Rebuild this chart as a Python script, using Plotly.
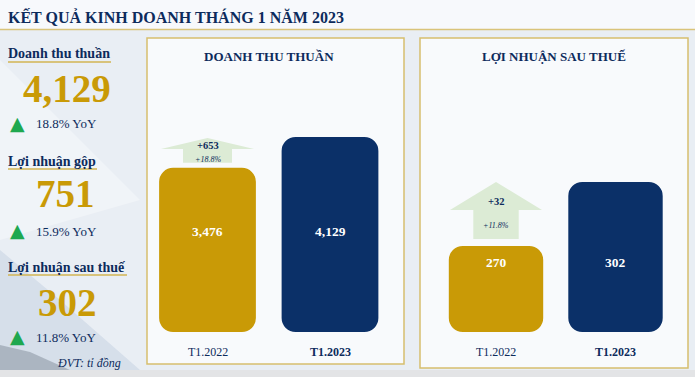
import plotly.graph_objects as go

# ---------------- data ----------------
title = "KẾT QUẢ KINH DOANH THÁNG 1 NĂM 2023"
categories = ["T1.2022", "T1.2023"]
revenue = [3476, 4129]
profit = [270, 302]
revenue_change = "+653"
revenue_pct = "+18.8%"
profit_change = "+32"
profit_pct = "+11.8%"
panel_titles = ["DOANH THU THUẦN", "LỢI NHUẬN SAU THUẾ"]
kpi_names = ["Doanh thu thuần", "Lợi nhuận gộp", "Lợi nhuận sau thuế"]
kpi_values = ["4,129", "751", "302"]
kpi_yoy = ["18.8% YoY", "15.9% YoY", "11.8% YoY"]
unit_note = "ĐVT: tỉ đồng"

# ---------------- style ----------------
W, H = 695, 377
GOLD = "#c99a06"
NAVY = "#0b3068"
TXT = "#0d2b5c"
GREEN = "#1fa84f"
ARROW = "#dcebd5"
BORDER = "#d6bf6e"
SERIF = "Liberation Serif"

REV_RANGE = [0, 4912]
PRO_RANGE = [227, 343]


def px(x):
    return x / W


def py(y):
    return 1 - y / H


fig = go.Figure()


def add_rounded_bars(values, base, xa, ya, radius):
    colors = [GOLD, NAVY]
    fig.add_trace(go.Bar(
        x=categories, y=[v - base for v in values], base=[base] * len(values),
        marker=dict(color=colors, cornerradius=radius, line=dict(width=0)),
        width=0.79, xaxis=xa, yaxis=ya, hoverinfo="skip", showlegend=False))


add_rounded_bars(revenue, REV_RANGE[0], "x", "y", 14)
add_rounded_bars(profit, PRO_RANGE[0], "x2", "y2", 14)

axis_common = dict(showgrid=False, zeroline=False, showticklabels=False,
                   showline=False, fixedrange=True)

fig.update_layout(
    width=W, height=H,
    margin=dict(l=0, r=0, t=0, b=0),
    paper_bgcolor="#e9eef4",
    plot_bgcolor="rgba(0,0,0,0)",
    barmode="overlay",
    showlegend=False,
    xaxis=dict(domain=[px(146.25), px(391.25)], range=[-0.5, 1.5], type="category", **axis_common),
    yaxis=dict(domain=[py(332), py(100)], range=REV_RANGE, **axis_common),
    xaxis2=dict(domain=[px(436.25), px(675.25)], range=[-0.5, 1.5], type="category", anchor="y2", **axis_common),
    yaxis2=dict(domain=[py(332), py(100)], range=PRO_RANGE, anchor="x2", **axis_common),
)

shapes = []
# background decorations
shapes.append(dict(type="rect", xref="paper", yref="paper", x0=0, x1=1, y0=py(29), y1=1,
                   fillcolor="#f7f9fc", line=dict(width=0), layer="below"))
shapes.append(dict(type="rect", xref="paper", yref="paper", x0=0, x1=1, y0=0, y1=py(370),
                   fillcolor="#e3e4e6", line=dict(width=0), layer="below"))
shapes.append(dict(type="path", xref="paper", yref="paper",
                   path=f"M 0 {py(250)} L {px(60)} {py(300)} L {px(140)} {py(370)} L 0 {py(370)} Z",
                   fillcolor="rgba(190,205,222,0.45)", line=dict(width=0), layer="below"))
shapes.append(dict(type="path", xref="paper", yref="paper",
                   path=f"M 0 {py(345)} L {px(30)} {py(352)} L {px(70)} {py(370)} L 0 {py(370)} Z",
                   fillcolor="rgba(120,130,145,0.45)", line=dict(width=0), layer="below"))
shapes.append(dict(type="path", xref="paper", yref="paper",
                   path=f"M {px(0)} {py(60)} L {px(140)} {py(200)} L {px(0)} {py(240)} Z",
                   fillcolor="rgba(255,255,255,0.35)", line=dict(width=0), layer="below"))
# header gold line
shapes.append(dict(type="line", xref="paper", yref="paper", x0=0, x1=1, y0=py(29.5), y1=py(29.5),
                   line=dict(color="#d9c47a", width=1.5), layer="below"))
# panels
for (x0, x1, y0, y1) in [(147, 404, 38, 364), (420, 688, 38, 368)]:
    shapes.append(dict(type="rect", xref="paper", yref="paper", x0=px(x0), x1=px(x1), y0=py(y1), y1=py(y0),
                       fillcolor="rgba(250,251,253,0.9)", line=dict(color=BORDER, width=1.5), layer="below"))
# KPI underlines
for (y, x1) in [(62, 111), (169, 97), (275, 127)]:
    shapes.append(dict(type="line", xref="paper", yref="paper", x0=px(8), x1=px(x1), y0=py(y), y1=py(y),
                       line=dict(color="#d2b553", width=1.3)))


def arrow(xref, yref, x_c, head_hw, shaft_hw, y_bottom, y_headbase, y_tip):
    path = (f"M {x_c - shaft_hw} {y_bottom} L {x_c + shaft_hw} {y_bottom} "
            f"L {x_c + shaft_hw} {y_headbase} L {x_c + head_hw} {y_headbase} "
            f"L {x_c} {y_tip} L {x_c - head_hw} {y_headbase} L {x_c - shaft_hw} {y_headbase} Z")
    return dict(type="path", xref=xref, yref=yref, path=path,
                fillcolor=ARROW, line=dict(width=0), layer="above")


s1 = (332 - 100) / (REV_RANGE[1] - REV_RANGE[0])
s2 = (332 - 100) / (PRO_RANGE[1] - PRO_RANGE[0])
shapes.append(arrow("x", "y", 0, 0.38, 0.2, revenue[0] + 5 / s1, revenue[1] - 12 / s1, revenue[1] - 1 / s1))
shapes.append(arrow("x2", "y2", 0, 0.385, 0.19, profit[0] + 7 / s2, profit[1] - 28 / s2, profit[1]))
fig.update_layout(shapes=shapes)

ann = []


def A(text, x, y, size, color=TXT, bold=False, italic=False, xanchor="center", xref="paper", family=SERIF):
    t = text
    if bold:
        t = f"<b>{t}</b>"
    if italic:
        t = f"<i>{t}</i>"
    ann.append(dict(text=t, x=x if xref != "paper" else px(x), y=py(y), xref=xref, yref="paper",
                    showarrow=False, xanchor=xanchor, yanchor="middle", borderpad=0,
                    font=dict(family=family, size=size, color=color)))


# header
A(title, 7, 17, 16, bold=True, xanchor="left")

# left KPIs
kpi_y = [(53, 88, 124), (161, 193, 231), (267, 302, 337)]
kpi_x = [67, 65, 67]
for name, val, yoy, (yn, yv, yy), xv in zip(kpi_names, kpi_values, kpi_yoy, kpi_y, kpi_x):
    A(name, 7, yn, 14, bold=True, xanchor="left")
    A(val, xv, yv, 39, color=GOLD, bold=True)
    A("▲", 17, yy - 1, 19, color=GREEN, family="DejaVu Sans")
    A(yoy, 35, yy, 13, xanchor="left")
A(unit_note, 122, 363, 12, italic=True, xanchor="right")

# panel titles
A(panel_titles[0], 269, 56, 13, bold=True)
A(panel_titles[1], 554, 57, 13, bold=True)

# bar value labels & category labels
for xr, vals, ylab in [("x", revenue, 231), ("x2", profit, 262)]:
    for i, (c, v) in enumerate(zip(categories, vals)):
        A(f"{v:,}", c, ylab, 13.5, color="white", bold=True, xref=xr)
        A(c, c, 352, 12, bold=(i == 1), xref=xr)

# arrow labels
A(revenue_change, categories[0], 145, 10.5, bold=True, xref="x")
A(revenue_pct, categories[0], 159, 8, italic=True, xref="x")
A(profit_change, categories[0], 201, 10.5, bold=True, xref="x2")
A(profit_pct, categories[0], 225, 8, italic=True, xref="x2")

fig.update_layout(annotations=ann)
fig.write_html(
    "out.html",
    config={"displayModeBar": False},
    post_script="document.body.style.margin='0';document.body.style.overflow='hidden';",
)
